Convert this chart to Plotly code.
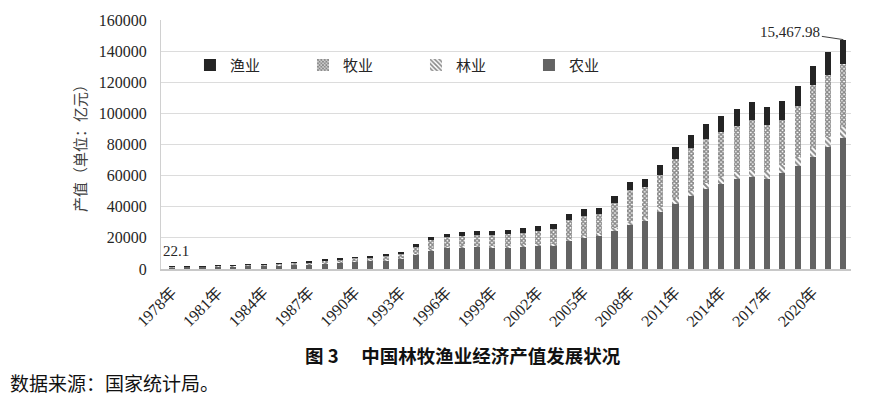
import plotly.graph_objects as go

years = list(range(1978, 2023))
categories = [f"{y}年" for y in years]

# 产值（亿元）
agriculture = [1117.5, 1325.3, 1454.1, 1635.9, 1865.3, 2074.5, 2380.1, 2506.4, 2771.8, 3160.5,
               3666.9, 4100.6, 4954.3, 5146.4, 5588.0, 6605.1, 9169.2, 11884.6, 13539.8, 13852.5,
               14241.9, 14106.2, 13873.6, 14462.8, 14931.5, 14870.1, 18138.4, 19613.4, 21522.3, 24658.1,
               28044.2, 30777.5, 36941.1, 41988.6, 46940.5, 51497.4, 54771.5, 57635.8, 59287.8, 58059.8,
               61452.6, 66066.5, 71748.2, 78339.5, 84438.6]
forestry = [48.1, 59.1, 81.4, 98.7, 110.0, 127.2, 161.6, 188.7, 201.2, 221.9,
            275.3, 284.9, 330.3, 367.9, 422.6, 494.0, 611.1, 709.9, 778.0, 817.8,
            851.3, 886.3, 936.5, 938.8, 1033.5, 1239.9, 1327.1, 1425.5, 1610.8, 1861.6,
            2152.9, 2193.0, 2595.5, 3120.7, 3447.1, 3902.4, 4256.0, 4436.4, 4635.9, 4980.6,
            5432.6, 5775.7, 5961.6, 6507.7, 6836.7]
husbandry = [209.3, 286.7, 354.2, 393.8, 446.4, 460.4, 583.6, 798.3, 893.8, 1088.6,
             1601.0, 1800.4, 1967.0, 2159.2, 2460.5, 3014.4, 4672.0, 6045.0, 6015.5, 6835.4,
             7025.8, 6997.6, 7393.1, 7963.1, 8454.6, 9538.8, 12173.8, 13310.8, 12083.9, 16124.9,
             20583.6, 19468.4, 20825.7, 25770.7, 27189.4, 28435.5, 28956.3, 29780.4, 31703.2, 29361.2,
             28697.4, 33064.3, 40266.7, 39910.8, 40652.4]
fishery = [22.1, 25.0, 32.3, 39.4, 43.7, 59.6, 76.2, 126.1, 162.8, 204.0,
           322.1, 348.4, 410.6, 482.3, 613.5, 882.0, 1298.2, 1701.3, 2020.3, 2282.5,
           2422.9, 2529.0, 2712.6, 2815.0, 2971.1, 3137.6, 3605.6, 4016.1, 3970.5, 4457.5,
           5203.4, 5626.4, 6422.4, 7568.0, 8706.0, 9634.6, 10334.3, 10880.6, 11602.9, 11577.1,
           12131.5, 12572.4, 12775.9, 14507.3, 15467.98]

totals = [a + b + c + d for a, b, c, d in zip(agriculture, forestry, husbandry, fishery)]
tick_labels = categories[::3]

serif = "Times New Roman, Liberation Serif, Noto Sans CJK SC, serif"
cjk = "Noto Sans CJK SC, sans-serif"
txt = "#262626"

fig = go.Figure()
fig.add_trace(go.Bar(name="农业", x=categories, y=agriculture,
                     marker=dict(color="#636363", line=dict(width=0))))
fig.add_trace(go.Bar(name="林业", x=categories, y=forestry,
                     marker=dict(color="white", line=dict(width=0),
                                 pattern=dict(shape="\\", fgcolor="#111", bgcolor="white",
                                              size=4, solidity=0.5))))
fig.add_trace(go.Bar(name="牧业", x=categories, y=husbandry,
                     marker=dict(color="white", line=dict(width=0),
                                 pattern=dict(shape="x", fgcolor="#111", bgcolor="white",
                                              size=3, solidity=0.7))))
fig.add_trace(go.Bar(name="渔业", x=categories, y=fishery,
                     marker=dict(color="#242424", line=dict(width=0))))

fig.update_layout(
    barmode="stack",
    bargap=0.6,
    width=877, height=397,
    margin=dict(l=161, r=26, t=16, b=128),
    paper_bgcolor="white", plot_bgcolor="white",
    font=dict(family=serif, color=txt, size=15),
    showlegend=True,
    legend=dict(orientation="h", traceorder="reversed", x=0.042, xanchor="left",
                y=0.818, yanchor="middle", entrywidth=68, entrywidthmode="pixels",
                font=dict(family=cjk, size=15, color=txt), bgcolor="rgba(0,0,0,0)"),
    xaxis=dict(type="category", tickmode="array", tickvals=tick_labels, ticktext=tick_labels,
               tickangle=-45, tickfont=dict(family=serif, size=16, color=txt),
               ticks="outside", ticklen=6, tickcolor="rgba(0,0,0,0)",
               showline=True, linecolor="#c8c8c8", linewidth=2,
               showgrid=False),
    yaxis=dict(range=[0, 160000], dtick=20000, tickformat="d",
               tickfont=dict(family=serif, size=16, color=txt),
               ticks="outside", ticklen=10, tickcolor="rgba(0,0,0,0)",
               showgrid=True, gridcolor="#dcdcdc", gridwidth=1,
               showline=True, linecolor="#d0d0d0", linewidth=1, zeroline=False,
               title=dict(text="产值（单位：亿元）", standoff=8,
                          font=dict(family=cjk, size=15, color="#404040"))),
)

fig.add_annotation(x=categories[0], y=totals[0], text=f"{fishery[0]}", showarrow=False,
                   yanchor="bottom", yshift=6, xshift=4,
                   font=dict(family=serif, size=15, color=txt))
fig.add_annotation(x=categories[-1], y=totals[-1], text=f"{fishery[-1]:,.2f}",
                   showarrow=True, arrowhead=0, arrowwidth=1, arrowcolor="#404040",
                   ax=-53, ay=-8, font=dict(family=serif, size=15, color=txt))

fig.add_annotation(xref="paper", yref="paper", x=0.438, y=-0.345, xanchor="center", yanchor="middle",
                   text="<b>图 3\u3000\u00a0中国林牧渔业经济产值发展状况</b>", showarrow=False,
                   font=dict(family=cjk, size=18.5, color="#111"))
fig.add_annotation(xref="paper", yref="paper", x=-0.2217, y=-0.4545, xanchor="left", yanchor="middle",
                   text="数据来源：国家统计局。", showarrow=False,
                   font=dict(family=cjk, size=19, color="#111"))

fig.write_html("out.html", config={"displayModeBar": False},
               post_script="document.body.style.margin='0';document.body.style.overflow='hidden';")
